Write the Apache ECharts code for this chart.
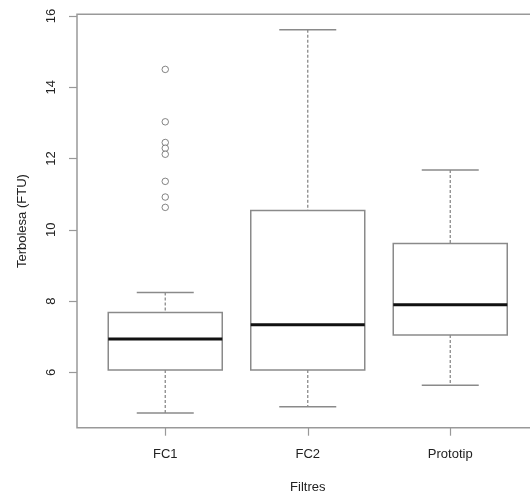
<!DOCTYPE html>
<html>
<head>
<meta charset="utf-8">
<script src="https://cdn.jsdelivr.net/npm/echarts@6/dist/echarts.min.js"></script>
<style>
  html, body { margin: 0; padding: 0; background: #fff; }
  #main { width: 530px; height: 495px; }
</style>
</head>
<body>
<div id="main"></div>
<script>
// valeurs
var categories = ['FC1', 'FC2', 'Prototip'];
var whiskerLow = [4.86, 5.04, 5.64];
var q1 = [6.07, 6.07, 7.05];
var median = [6.94, 7.34, 7.90];
var q3 = [7.68, 10.54, 9.62];
var whiskerHigh = [8.24, 15.61, 11.68];
var fc1Outliers = [14.50, 13.03, 12.45, 12.29, 12.12, 11.36, 10.92, 10.63];
var yTicks = [6, 8, 10, 12, 14, 16];

var FONT = '"Liberation Sans", Arial, sans-serif';
var LINE = '#8a8a8a';

var boxData = [];
for (var i = 0; i < categories.length; i++) {
    boxData.push([i, whiskerLow[i], q1[i], median[i], q3[i], whiskerHigh[i]]);
}
var outlierData = [];
for (var k = 0; k < fc1Outliers.length; k++) {
    outlierData.push([0, fc1Outliers[k]]);
}

function renderBox(params, api) {
    var idx = api.value(0);
    var band = api.size([1, 0])[0];
    var lo = api.coord([idx, api.value(1)]);
    var b1 = api.coord([idx, api.value(2)]);
    var md = api.coord([idx, api.value(3)]);
    var b3 = api.coord([idx, api.value(4)]);
    var hi = api.coord([idx, api.value(5)]);
    var cx = lo[0];
    var hw = band * 0.4, cw = band * 0.2;
    var dashed = { stroke: LINE, lineWidth: 1.3, lineDash: [3, 2] };
    var solid = { stroke: LINE, lineWidth: 1.5 };
    return {
        type: 'group',
        children: [
            { type: 'line', shape: { x1: cx, y1: hi[1], x2: cx, y2: b3[1] }, style: dashed },
            { type: 'line', shape: { x1: cx, y1: b1[1], x2: cx, y2: lo[1] }, style: dashed },
            { type: 'line', shape: { x1: cx - cw, y1: hi[1], x2: cx + cw, y2: hi[1] }, style: solid },
            { type: 'line', shape: { x1: cx - cw, y1: lo[1], x2: cx + cw, y2: lo[1] }, style: solid },
            { type: 'rect', shape: { x: cx - hw, y: b3[1], width: hw * 2, height: b1[1] - b3[1] },
              style: { fill: '#fff', stroke: LINE, lineWidth: 1.5 } },
            { type: 'line', shape: { x1: cx - hw, y1: md[1], x2: cx + hw, y2: md[1] },
              style: { stroke: '#111', lineWidth: 3 } }
        ]
    };
}

var myChart = echarts.init(document.getElementById('main'));

var option = {
    backgroundColor: '#fff',
    animation: false,
    textStyle: { fontFamily: FONT },
    grid: {
        left: 94,
        top: 14.5,
        width: 427.5,
        bottom: 67.3,
        containLabel: false,
        outerBoundsMode: 'none'
    },
    graphic: [{
        type: 'rect',
        shape: { x: 77, y: 14.3, width: 480, height: 413.4 },
        style: { fill: 'none', stroke: '#999', lineWidth: 1.5 },
        z: 100
    }],
    xAxis: {
        type: 'category',
        data: categories,
        boundaryGap: true,
        name: 'Filtres',
        nameLocation: 'middle',
        nameGap: 53,
        nameTextStyle: { fontSize: 13, color: '#222', fontFamily: FONT },
        axisLine: { show: false },
        axisTick: { show: true, alignWithLabel: true, length: 8, lineStyle: { color: '#999', width: 1.2 } },
        axisLabel: { fontSize: 13, color: '#222', margin: 20, fontFamily: FONT },
        splitLine: { show: false }
    },
    yAxis: {
        type: 'value',
        min: 4.45,
        max: 16.04,
        offset: 17,
        name: 'Terbolesa (FTU)',
        nameLocation: 'middle',
        nameRotate: 90,
        nameGap: 48,
        nameTextStyle: { fontSize: 13, color: '#222', fontFamily: FONT },
        axisLine: { show: false },
        axisTick: { show: true, length: 8, customValues: yTicks, lineStyle: { color: '#999', width: 1.2 } },
        axisLabel: { rotate: 90, fontSize: 13, color: '#222', margin: 19, customValues: yTicks, fontFamily: FONT },
        splitLine: { show: false }
    },
    series: [{
        type: 'custom',
        name: 'box',
        data: boxData,
        encode: { x: 0, y: [1, 2, 3, 4, 5] },
        renderItem: renderBox,
        z: 2
    }, {
        type: 'scatter',
        name: 'outliers',
        data: outlierData,
        symbol: 'circle',
        symbolSize: 6.5,
        itemStyle: { color: '#fff', borderColor: '#555', borderWidth: 0.9 },
        z: 3
    }]
};

myChart.setOption(option);
</script>
</body>
</html>
